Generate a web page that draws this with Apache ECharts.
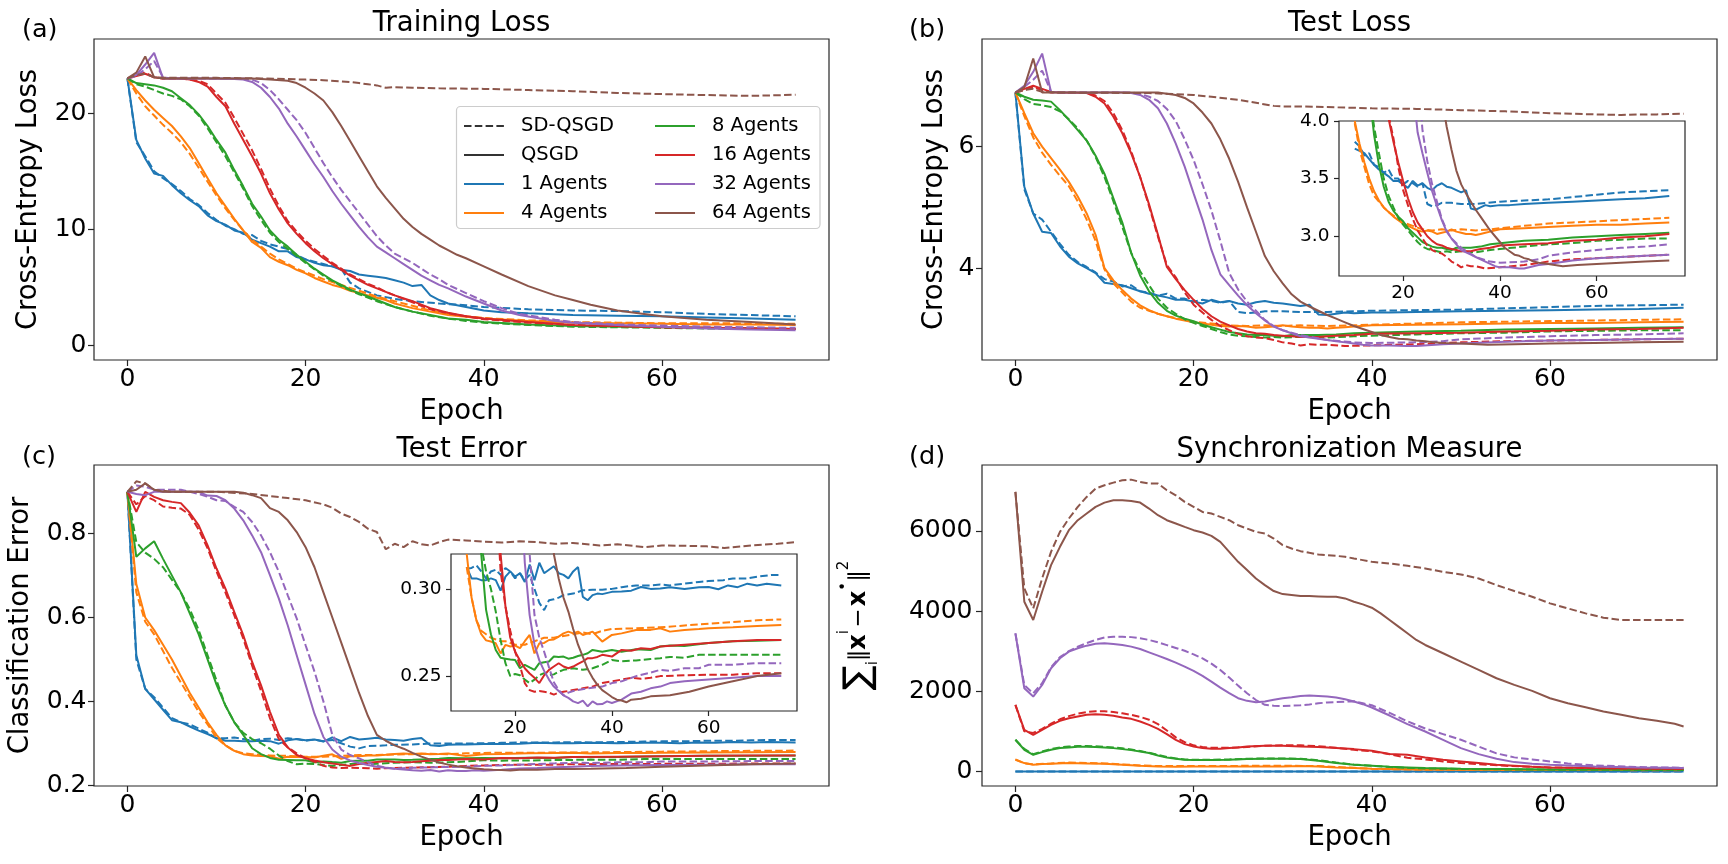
<!DOCTYPE html>
<html><head><meta charset="utf-8">
<script src="https://cdn.jsdelivr.net/npm/echarts@6/dist/echarts.min.js"></script>
<style>html,body{margin:0;padding:0;background:#fff}#c{width:1728px;height:864px}</style>
</head><body><div id="c"></div>
<script>
const FONT = 'DejaVu Sans';
const AGENTS = ['1 Agents','4 Agents','8 Agents','16 Agents','32 Agents','64 Agents'];
const COLORS = ['#1f77b4','#ff7f0e','#2ca02c','#d62728','#9467bd','#8c564b'];
const METHODS = ['SD-QSGD','QSGD'];
const X_TICKS = [0,20,40,60];
const INSET_X_TICKS = [20,40,60];
const Y_TICKS_A = [0,10,20];
const Y_TICKS_B = [4,6];
const Y_TICKS_C = [0.2,0.4,0.6,0.8];
const Y_TICKS_D = [0,2000,4000,6000];
const Y_TICKS_INSET_B = [3.0,3.5,4.0];
const Y_TICKS_INSET_C = [0.25,0.30];

// ---- (a) Training loss: [epoch, value], order 1,4,8,16,32,64 agents
const trainLossSD = [
 [[0,23],[1,17.5],[2,16.3],[3,15.0],[4,14.4],[5,13.9],[6,13.3],[7,12.6],[8,12.1],[9,11.4],[10,10.8],[11,10.3],[12,10.0],[13,9.6],[14,9.5],[15,9.0],[16,8.7],[17,8.5],[18,8.3],[19,7.8],[20,7.4],[21,7.2],[22,7.0],[23,6.8],[24,6.6],[25,5.4],[26,4.9],[27,4.6],[28,4.3],[30,4.0],[32,3.8],[35,3.6],[38,3.45],[40,3.3],[45,3.1],[50,3.0],[55,2.95],[60,2.85],[65,2.7],[70,2.6],[75,2.5]],
 [[0,23],[1,21.7],[2,20.6],[3,19.8],[4,19.0],[5,18.3],[6,17.5],[7,16.5],[8,15.3],[9,14.1],[10,12.9],[11,11.8],[12,10.8],[13,9.9],[14,9.1],[15,8.5],[16,7.9],[17,7.4],[18,7.0],[19,6.6],[20,6.3],[22,5.7],[24,5.2],[26,4.7],[28,4.2],[30,3.8],[32,3.4],[34,3.0],[36,2.7],[38,2.5],[40,2.35],[45,2.15],[50,2.0],[55,1.95],[60,1.9],[65,1.9],[70,1.88],[75,1.85]],
 [[0,23],[1,22.5],[2,22.3],[3,22.0],[4,21.7],[5,21.5],[6,21.2],[7,20.6],[8,19.8],[9,18.7],[10,17.5],[11,16.3],[12,14.9],[13,13.5],[14,12.0],[15,10.8],[16,9.7],[17,8.9],[18,8.3],[19,7.7],[20,7.1],[22,6.0],[24,5.1],[26,4.4],[28,3.8],[30,3.3],[32,2.9],[34,2.55],[36,2.3],[38,2.1],[40,1.95],[45,1.75],[50,1.6],[55,1.55],[60,1.5],[65,1.45],[70,1.42],[75,1.4]],
 [[0,23],[1,23.3],[2,23.5],[3,23.1],[4,23.0],[6,23.0],[7,22.9],[8,22.8],[9,22.5],[10,21.7],[11,20.9],[12,19.6],[13,18.2],[14,16.8],[15,15.2],[16,13.5],[17,12.0],[18,10.7],[19,9.8],[20,9.0],[21,8.3],[22,7.7],[23,7.1],[24,6.6],[25,6.1],[26,5.7],[27,5.3],[28,5.0],[29,4.6],[30,4.3],[32,3.7],[34,3.1],[36,2.75],[38,2.5],[40,2.25],[45,1.95],[50,1.75],[55,1.65],[60,1.55],[65,1.5],[70,1.45],[75,1.4]],
 [[0,23],[1,23.2],[2,23.8],[3,24.5],[4,23.1],[5,23.0],[8,23.0],[13,23.0],[14,22.9],[15,22.6],[16,22.0],[17,21.2],[18,20.3],[19,19.4],[20,18.3],[21,17.0],[22,15.7],[23,14.5],[24,13.4],[25,12.4],[26,11.4],[27,10.4],[28,9.4],[29,8.6],[30,7.9],[31,7.5],[32,7.1],[33,6.6],[34,6.1],[35,5.7],[36,5.2],[38,4.5],[40,3.8],[42,3.2],[44,2.7],[46,2.45],[48,2.2],[50,2.0],[55,1.8],[60,1.7],[65,1.6],[70,1.55],[75,1.5]],
 [[0,23],[1,23.3],[2,23.4],[3,23.1],[5,23.05],[10,23.05],[15,23.0],[18,22.95],[20,22.9],[22,22.85],[24,22.75],[25,22.7],[26,22.6],[27,22.5],[28,22.4],[29,22.2],[30,22.25],[32,22.2],[35,22.15],[40,22.1],[45,22.0],[50,21.9],[55,21.75],[60,21.65],[63,21.6],[66,21.55],[70,21.5],[73,21.55],[75,21.6]]
];
const trainLossQ = [
 [[0,23],[1,17.7],[2,16.1],[3,14.8],[4,14.6],[5,13.8],[6,13.1],[7,12.5],[8,12.0],[9,11.2],[10,10.7],[11,10.4],[12,9.9],[13,9.7],[14,9.1],[15,8.8],[16,8.5],[17,8.1],[18,8.1],[19,7.6],[20,7.4],[21,7.1],[22,6.9],[23,6.8],[24,6.5],[25,6.4],[26,6.1],[27,6.0],[28,5.9],[29,5.8],[30,5.6],[31,5.4],[32,5.1],[33,5.2],[34,4.3],[35,3.9],[36,3.6],[38,3.3],[40,3.0],[42,2.85],[45,2.75],[50,2.6],[55,2.55],[60,2.5],[65,2.4],[70,2.3],[75,2.2]],
 [[0,23],[1,22.0],[2,21.1],[3,20.3],[4,19.6],[5,18.9],[6,18.0],[7,17.0],[8,15.7],[9,14.4],[10,13.1],[11,12.0],[12,10.9],[13,9.9],[14,8.9],[15,8.4],[16,7.6],[17,7.2],[18,6.9],[19,6.5],[20,6.2],[21,5.8],[22,5.5],[23,5.2],[24,5.0],[25,4.7],[26,4.5],[27,4.3],[28,4.1],[29,3.9],[30,3.6],[32,3.2],[34,2.9],[36,2.6],[38,2.45],[40,2.3],[45,2.1],[50,1.95],[55,1.9],[60,1.85],[65,1.8],[70,1.78],[75,1.75]],
 [[0,23],[1,22.6],[2,22.5],[3,22.4],[4,22.2],[5,21.9],[6,21.3],[7,20.7],[8,19.9],[9,18.9],[10,17.7],[11,16.6],[12,15.1],[13,13.7],[14,12.2],[15,11.1],[16,9.9],[17,9.1],[18,8.5],[19,7.8],[20,7.2],[21,6.6],[22,6.1],[23,5.6],[24,5.2],[25,4.8],[26,4.5],[27,4.2],[28,3.9],[30,3.3],[32,2.9],[34,2.6],[36,2.3],[38,2.2],[40,2.0],[45,1.8],[50,1.65],[55,1.6],[60,1.55],[65,1.5],[70,1.45],[75,1.4]],
 [[0,23],[1,23.2],[2,23.4],[3,23.1],[4,23.0],[5,23.0],[6,23.0],[7,22.9],[8,22.7],[9,22.3],[10,21.4],[11,20.6],[12,19.1],[13,17.7],[14,16.3],[15,14.8],[16,13.1],[17,11.7],[18,10.5],[19,9.6],[20,8.8],[21,8.1],[22,7.5],[23,7.0],[24,6.5],[25,6.0],[26,5.6],[27,5.2],[28,4.9],[29,4.6],[30,4.3],[32,3.8],[34,3.2],[36,2.8],[38,2.5],[40,2.3],[45,2.0],[50,1.75],[55,1.65],[60,1.55],[65,1.5],[70,1.45],[75,1.4]],
 [[0,23],[1,23.3],[2,24.2],[3,25.2],[4,23.0],[5,23.0],[8,23.0],[12,22.95],[13,22.9],[14,22.7],[15,22.2],[16,21.4],[17,20.4],[18,19.1],[19,18.0],[20,16.8],[21,15.6],[22,14.5],[23,13.3],[24,12.2],[25,11.2],[26,10.2],[27,9.3],[28,8.5],[29,8.0],[30,7.5],[31,7.0],[32,6.5],[33,6.0],[34,5.6],[35,5.2],[36,4.9],[38,4.2],[40,3.6],[42,3.0],[44,2.6],[46,2.35],[48,2.1],[50,1.95],[55,1.75],[60,1.6],[65,1.45],[70,1.35],[75,1.3]],
 [[0,23],[1,23.5],[2,24.9],[3,23.1],[4,23.0],[10,23.0],[14,23.0],[16,22.9],[18,22.8],[19,22.6],[20,22.2],[21,21.7],[22,21.1],[23,20.1],[24,18.9],[25,17.6],[26,16.3],[27,15.0],[28,13.7],[29,12.7],[30,11.8],[31,10.9],[32,10.2],[33,9.6],[34,9.1],[35,8.6],[36,8.2],[37,7.8],[38,7.5],[40,6.8],[42,6.1],[45,5.1],[48,4.3],[50,3.9],[52,3.5],[55,3.0],[58,2.7],[60,2.5],[65,2.2],[70,2.0],[75,1.8]]
];

// ---- (b) Test loss
const testLossSD = [
 [[0,6.89],[1,5.3],[2,4.9],[3,4.8],[4,4.6],[5,4.4],[6,4.22],[7,4.1],[8,4.02],[9,3.93],[10,3.82],[11,3.78],[12,3.7],[13,3.72],[14,3.62],[15,3.6],[16,3.55],[17,3.58],[18,3.5],[19,3.5],[20,3.45],[21,3.48],[22,3.46],[23,3.43],[24,3.46],[25,3.28],[26,3.26],[27,3.27],[28,3.29],[30,3.29],[32,3.28],[35,3.28],[40,3.3],[45,3.31],[50,3.32],[55,3.34],[60,3.36],[65,3.38],[70,3.39],[75,3.4]],
 [[0,6.89],[1,6.5],[2,6.15],[3,5.9],[4,5.7],[5,5.52],[6,5.35],[7,5.1],[8,4.8],[9,4.45],[10,3.98],[11,3.75],[12,3.6],[13,3.45],[14,3.35],[15,3.3],[16,3.25],[17,3.21],[18,3.18],[19,3.15],[20,3.12],[22,3.09],[24,3.06],[26,3.05],[28,3.06],[30,3.05],[32,3.06],[35,3.05],[38,3.06],[40,3.07],[45,3.09],[50,3.11],[55,3.12],[60,3.13],[65,3.14],[70,3.15],[75,3.16]],
 [[0,6.89],[1,6.78],[2,6.7],[3,6.68],[4,6.65],[5,6.58],[6,6.45],[7,6.3],[8,6.1],[9,5.83],[10,5.5],[11,5.1],[12,4.68],[13,4.25],[14,3.95],[15,3.72],[16,3.5],[17,3.35],[18,3.25],[19,3.16],[20,3.1],[21,3.05],[22,3.0],[23,2.95],[24,2.91],[25,2.89],[26,2.88],[27,2.87],[28,2.86],[29,2.87],[30,2.86],[32,2.87],[35,2.86],[38,2.88],[40,2.89],[45,2.91],[50,2.93],[55,2.94],[60,2.96],[65,2.97],[70,2.98],[75,2.98]],
 [[0,6.89],[1,6.93],[2,6.98],[3,6.93],[4,6.89],[8,6.88],[9,6.84],[10,6.75],[11,6.55],[12,6.27],[13,5.92],[14,5.5],[15,5.02],[16,4.52],[17,4.05],[18,3.85],[19,3.6],[20,3.4],[21,3.27],[22,3.15],[23,3.05],[24,2.98],[25,2.92],[26,2.88],[27,2.86],[28,2.85],[29,2.82],[30,2.78],[31,2.76],[32,2.73],[33,2.75],[34,2.74],[35,2.74],[37,2.72],[40,2.73],[45,2.75],[50,2.78],[55,2.8],[60,2.81],[65,2.82],[70,2.83],[75,2.84]],
 [[0,6.89],[1,6.98],[2,7.1],[3,7.25],[4,6.9],[5,6.89],[13,6.89],[14,6.87],[15,6.82],[16,6.75],[17,6.62],[18,6.42],[19,6.12],[20,5.78],[21,5.38],[22,4.95],[23,4.45],[24,3.92],[25,3.65],[26,3.45],[27,3.3],[28,3.15],[29,3.05],[30,2.98],[32,2.9],[35,2.82],[38,2.78],[40,2.77],[45,2.78],[48,2.8],[50,2.83],[55,2.86],[60,2.88],[65,2.9],[70,2.91],[75,2.93]],
 [[0,6.89],[1,6.93],[2,6.95],[3,6.9],[5,6.89],[15,6.88],[20,6.85],[22,6.82],[25,6.77],[27,6.72],[29,6.67],[30,6.66],[32,6.66],[35,6.65],[40,6.63],[45,6.62],[50,6.6],[55,6.58],[60,6.55],[65,6.53],[68,6.52],[70,6.53],[72,6.53],[75,6.54]]
];
const testLossQ = [
 [[0,6.89],[1,5.34],[2,4.9],[3,4.6],[4,4.58],[5,4.36],[6,4.19],[7,4.08],[8,4.0],[9,3.92],[10,3.76],[11,3.74],[12,3.72],[13,3.67],[14,3.62],[15,3.58],[16,3.55],[17,3.52],[18,3.48],[19,3.48],[20,3.45],[21,3.42],[22,3.48],[23,3.44],[24,3.46],[25,3.42],[26,3.4],[27,3.44],[28,3.46],[29,3.43],[30,3.42],[31,3.4],[32,3.38],[33,3.4],[34,3.24],[35,3.23],[36,3.25],[37,3.27],[38,3.26],[40,3.27],[42,3.27],[45,3.28],[50,3.29],[55,3.3],[60,3.31],[65,3.32],[70,3.33],[75,3.35]],
 [[0,6.89],[1,6.55],[2,6.22],[3,6.0],[4,5.81],[5,5.62],[6,5.42],[7,5.18],[8,4.9],[9,4.55],[10,4.0],[11,3.8],[12,3.64],[13,3.5],[14,3.39],[15,3.31],[16,3.25],[17,3.21],[18,3.17],[19,3.14],[20,3.11],[21,3.09],[22,3.07],[23,3.05],[24,3.04],[25,3.05],[26,3.04],[27,3.02],[28,3.03],[29,3.04],[30,3.06],[31,3.04],[32,3.03],[33,3.02],[34,3.02],[35,3.01],[36,3.02],[37,3.03],[38,3.04],[40,3.06],[45,3.07],[50,3.08],[55,3.09],[60,3.1],[65,3.1],[70,3.11],[75,3.12]],
 [[0,6.89],[1,6.82],[2,6.77],[3,6.76],[4,6.74],[5,6.6],[6,6.44],[7,6.27],[8,6.1],[9,5.85],[10,5.55],[11,5.15],[12,4.75],[13,4.25],[14,3.88],[15,3.62],[16,3.43],[17,3.3],[18,3.22],[19,3.17],[20,3.13],[21,3.07],[22,3.03],[23,2.99],[24,2.95],[25,2.93],[26,2.91],[27,2.9],[28,2.9],[29,2.89],[30,2.88],[31,2.9],[32,2.9],[34,2.9],[36,2.91],[38,2.93],[40,2.94],[45,2.96],[50,2.97],[55,2.99],[60,3.0],[65,3.01],[70,3.02],[75,3.03]],
 [[0,6.89],[1,6.95],[2,7.0],[3,6.95],[4,6.9],[5,6.89],[8,6.88],[9,6.82],[10,6.71],[11,6.49],[12,6.22],[13,5.89],[14,5.5],[15,5.05],[16,4.55],[17,4.02],[18,3.82],[19,3.64],[20,3.48],[21,3.33],[22,3.21],[23,3.12],[24,3.06],[25,3.0],[26,2.96],[27,2.93],[28,2.92],[29,2.9],[30,2.89],[31,2.88],[32,2.87],[33,2.87],[34,2.87],[35,2.88],[36,2.89],[38,2.9],[40,2.92],[45,2.93],[50,2.94],[55,2.96],[60,2.97],[65,2.99],[70,3.0],[75,3.02]],
 [[0,6.89],[1,7.0],[2,7.23],[3,7.53],[4,6.9],[5,6.89],[12,6.89],[13,6.88],[14,6.85],[15,6.77],[16,6.63],[17,6.38],[18,6.05],[19,5.67],[20,5.23],[21,4.8],[22,4.3],[23,3.9],[24,3.72],[25,3.55],[26,3.39],[27,3.26],[28,3.14],[29,3.04],[30,2.98],[31,2.93],[32,2.88],[33,2.86],[34,2.84],[35,2.82],[36,2.8],[37,2.78],[38,2.76],[39,2.74],[40,2.73],[42,2.73],[44,2.72],[45,2.72],[48,2.75],[50,2.76],[55,2.79],[60,2.81],[65,2.82],[70,2.83],[75,2.84]],
 [[0,6.89],[1,6.98],[2,7.45],[3,6.89],[5,6.89],[16,6.89],[17,6.87],[18,6.85],[19,6.8],[20,6.71],[21,6.56],[22,6.38],[23,6.12],[24,5.8],[25,5.42],[26,5.0],[27,4.6],[28,4.2],[29,3.95],[30,3.75],[31,3.57],[32,3.45],[33,3.37],[34,3.3],[35,3.23],[36,3.17],[37,3.11],[38,3.05],[39,3.0],[40,2.95],[41,2.9],[42,2.87],[43,2.84],[44,2.83],[45,2.81],[46,2.8],[47,2.78],[48,2.77],[50,2.76],[53,2.74],[56,2.75],[60,2.76],[65,2.77],[70,2.78],[75,2.79]]
];

// ---- (c) Test error
const testErrSD = [
 [[0,0.9],[1,0.5],[2,0.43],[3,0.41],[4,0.385],[5,0.36],[6,0.35],[7,0.345],[8,0.335],[9,0.325],[10,0.3116],[11,0.312],[12,0.3135],[13,0.31],[14,0.306],[15,0.31],[16,0.311],[17,0.308],[18,0.312],[19,0.31],[20,0.306],[21,0.309],[22,0.305],[23,0.308],[24,0.3],[25,0.292],[26,0.2878],[27,0.2935],[28,0.294],[29,0.295],[30,0.2964],[32,0.2973],[34,0.2992],[36,0.2995],[38,0.2995],[40,0.3],[42,0.301],[45,0.302],[48,0.302],[50,0.3025],[52,0.302],[55,0.303],[58,0.304],[60,0.3045],[63,0.305],[65,0.306],[68,0.306],[70,0.307],[73,0.308],[75,0.308]],
 [[0,0.9],[1,0.66],[2,0.59],[3,0.56],[4,0.52],[5,0.48],[6,0.445],[7,0.41],[8,0.375],[9,0.345],[10,0.3125],[11,0.295],[12,0.282],[13,0.276],[14,0.274],[15,0.272],[16,0.271],[17,0.27],[18,0.27],[19,0.269],[20,0.268],[22,0.268],[24,0.27],[26,0.272],[28,0.272],[30,0.273],[32,0.274],[34,0.275],[36,0.274],[38,0.276],[40,0.277],[45,0.2774],[50,0.278],[55,0.279],[60,0.28],[65,0.281],[70,0.282],[75,0.2825]],
 [[0,0.9],[1,0.78],[2,0.755],[3,0.74],[4,0.72],[5,0.69],[6,0.66],[7,0.62],[8,0.57],[9,0.51],[10,0.45],[11,0.39],[12,0.35],[13,0.325],[14,0.31],[15,0.3],[16,0.287],[17,0.2707],[18,0.2574],[19,0.25],[20,0.2512],[21,0.2505],[22,0.248],[23,0.246],[24,0.248],[25,0.2505],[26,0.2517],[27,0.2505],[28,0.251],[29,0.2525],[30,0.2536],[32,0.2545],[34,0.2536],[36,0.2545],[38,0.2565],[40,0.2593],[42,0.2585],[45,0.259],[48,0.2598],[50,0.2603],[52,0.261],[55,0.2605],[58,0.2622],[60,0.2622],[65,0.2622],[70,0.2622],[75,0.2622]],
 [[0,0.9],[1,0.87],[2,0.89],[3,0.88],[4,0.865],[5,0.862],[6,0.86],[7,0.845],[8,0.81],[9,0.765],[10,0.71],[11,0.66],[12,0.605],[13,0.55],[14,0.485],[15,0.425],[16,0.36],[17,0.31],[18,0.29],[19,0.276],[20,0.264],[21,0.256],[22,0.246],[23,0.242],[24,0.241],[25,0.2415],[26,0.241],[27,0.2405],[28,0.2394],[29,0.2405],[30,0.241],[32,0.242],[34,0.243],[36,0.244],[38,0.246],[40,0.247],[42,0.248],[44,0.249],[46,0.2485],[48,0.249],[50,0.25],[55,0.2505],[60,0.2508],[65,0.2508],[70,0.2517],[75,0.2517]],
 [[0,0.9],[1,0.915],[2,0.912],[3,0.905],[6,0.905],[7,0.9],[8,0.895],[9,0.888],[10,0.88],[11,0.878],[12,0.864],[13,0.852],[14,0.828],[15,0.796],[16,0.756],[17,0.709],[18,0.653],[19,0.598],[20,0.534],[21,0.471],[22,0.4],[23,0.32],[24,0.285],[25,0.272],[26,0.264],[27,0.255],[28,0.2465],[29,0.242],[30,0.239],[31,0.2405],[32,0.2415],[33,0.242],[35,0.243],[38,0.244],[40,0.246],[42,0.247],[45,0.25],[48,0.252],[50,0.2536],[52,0.253],[55,0.2545],[58,0.2545],[60,0.2565],[65,0.2565],[70,0.2574],[75,0.2574]],
 [[0,0.9],[1,0.925],[2,0.92],[3,0.905],[5,0.9],[10,0.9],[14,0.895],[16,0.89],[18,0.885],[20,0.88],[22,0.87],[23,0.862],[24,0.848],[25,0.84],[26,0.828],[27,0.812],[28,0.804],[29,0.763],[30,0.776],[31,0.768],[32,0.782],[33,0.775],[34,0.772],[35,0.78],[36,0.786],[38,0.784],[40,0.781],[42,0.779],[44,0.782],[46,0.78],[48,0.776],[50,0.778],[52,0.774],[53,0.772],[55,0.775],[58,0.768],[60,0.772],[63,0.771],[65,0.77],[67,0.766],[70,0.772],[73,0.776],[75,0.78]]
];
const testErrQ = [
 [[0,0.9],[1,0.51],[2,0.43],[3,0.405],[4,0.38],[5,0.355],[6,0.35],[7,0.34],[8,0.33],[9,0.322],[10,0.3125],[11,0.306],[12,0.306],[13,0.305],[14,0.305],[15,0.306],[16,0.305],[17,0.299],[18,0.307],[19,0.31],[20,0.307],[21,0.309],[22,0.304],[23,0.314],[24,0.305],[25,0.315],[26,0.309],[27,0.311],[28,0.313],[29,0.309],[30,0.308],[31,0.306],[32,0.31],[33,0.3125],[34,0.2954],[35,0.2935],[36,0.2964],[37,0.2973],[38,0.297],[40,0.2983],[42,0.2985],[44,0.299],[46,0.3011],[48,0.3],[50,0.3002],[52,0.301],[55,0.3],[58,0.301],[60,0.3011],[62,0.2998],[64,0.302],[66,0.301],[68,0.303],[70,0.302],[72,0.303],[75,0.302]],
 [[0,0.9],[1,0.68],[2,0.6],[3,0.57],[4,0.535],[5,0.5],[6,0.46],[7,0.42],[8,0.385],[9,0.35],[10,0.32],[11,0.295],[12,0.282],[13,0.274],[14,0.2705],[15,0.2698],[16,0.2688],[17,0.263],[18,0.2679],[19,0.267],[20,0.2675],[21,0.266],[22,0.27],[23,0.2736],[24,0.263],[25,0.2688],[26,0.269],[27,0.2707],[28,0.271],[29,0.2726],[30,0.2745],[31,0.2755],[32,0.2745],[33,0.2755],[34,0.2736],[35,0.2745],[36,0.2755],[38,0.2698],[40,0.2736],[42,0.2745],[45,0.2764],[48,0.2765],[50,0.2774],[52,0.2755],[55,0.2765],[58,0.277],[60,0.2774],[65,0.278],[70,0.2787],[75,0.2793]],
 [[0,0.9],[1,0.745],[2,0.765],[3,0.782],[4,0.74],[5,0.7],[6,0.66],[7,0.61],[8,0.56],[9,0.5],[10,0.44],[11,0.39],[12,0.35],[13,0.32],[14,0.288],[15,0.274],[16,0.265],[17,0.2605],[18,0.26],[19,0.2595],[20,0.2593],[21,0.2545],[22,0.2565],[23,0.255],[24,0.2536],[25,0.2574],[26,0.258],[27,0.2584],[28,0.2612],[29,0.261],[30,0.2612],[31,0.26],[32,0.2605],[33,0.2615],[34,0.2622],[35,0.2631],[36,0.265],[38,0.264],[40,0.265],[42,0.264],[45,0.2654],[48,0.265],[50,0.267],[52,0.2675],[55,0.2673],[60,0.269],[65,0.27],[70,0.2703],[75,0.2707]],
 [[0,0.9],[1,0.852],[2,0.9],[3,0.888],[4,0.88],[5,0.876],[6,0.873],[7,0.85],[8,0.82],[9,0.772],[10,0.717],[11,0.669],[12,0.613],[13,0.558],[14,0.494],[15,0.438],[16,0.375],[17,0.32],[18,0.29],[19,0.272],[20,0.264],[21,0.259],[22,0.2545],[23,0.2515],[24,0.249],[25,0.246],[26,0.2505],[27,0.2536],[28,0.2555],[29,0.2574],[30,0.2555],[31,0.2545],[32,0.2555],[33,0.257],[34,0.2584],[35,0.2603],[36,0.2603],[37,0.261],[38,0.2622],[40,0.2612],[42,0.265],[44,0.2645],[46,0.266],[48,0.2655],[50,0.267],[55,0.268],[60,0.269],[65,0.27],[70,0.2707],[75,0.2707]],
 [[0,0.9],[1,0.895],[2,0.892],[3,0.9],[4,0.9],[8,0.9],[9,0.891],[10,0.89],[11,0.88],[12,0.86],[13,0.832],[14,0.796],[15,0.756],[16,0.701],[17,0.645],[18,0.581],[19,0.51],[20,0.44],[21,0.37],[22,0.315],[23,0.285],[24,0.268],[25,0.259],[26,0.253],[27,0.248],[28,0.244],[29,0.2415],[30,0.239],[31,0.2375],[32,0.2355],[33,0.2345],[34,0.236],[35,0.2327],[36,0.2355],[37,0.2338],[38,0.234],[39,0.2355],[40,0.2346],[42,0.2365],[44,0.24],[46,0.241],[48,0.243],[50,0.244],[52,0.246],[55,0.247],[60,0.248],[65,0.249],[70,0.25],[75,0.25]],
 [[0,0.9],[1,0.905],[2,0.92],[3,0.905],[4,0.9],[12,0.9],[13,0.898],[14,0.892],[15,0.885],[16,0.861],[17,0.852],[18,0.832],[19,0.804],[20,0.768],[21,0.72],[22,0.66],[23,0.6],[24,0.54],[25,0.48],[26,0.42],[27,0.365],[28,0.32],[29,0.306],[30,0.295],[31,0.287],[32,0.277],[33,0.268],[34,0.261],[35,0.254],[36,0.249],[37,0.245],[38,0.242],[39,0.24],[40,0.238],[41,0.2365],[42,0.236],[43,0.235],[44,0.2365],[46,0.237],[48,0.2384],[50,0.2388],[52,0.239],[56,0.241],[60,0.244],[65,0.247],[70,0.25],[75,0.2517]]
];

// ---- (d) Synchronization measure
const syncSD = [
 [[0,0],[20,0],[40,0],[60,0],[75,0]],
 [[0,300],[1,200],[2,175],[4,200],[6,220],[8,210],[10,200],[12,175],[14,150],[16,135],[20,135],[25,138],[30,140],[34,135],[36,110],[38,90],[40,65],[45,45],[50,40],[60,35],[75,30]],
 [[0,789],[1,560],[2,430],[3,500],[4,560],[5,600],[6,620],[7,635],[8,635],[9,625],[10,615],[11,598],[12,575],[13,545],[14,510],[15,465],[16,410],[17,360],[18,325],[19,300],[20,290],[22,290],[24,300],[26,315],[28,325],[30,325],[32,315],[34,280],[36,220],[38,170],[40,140],[42,110],[44,90],[46,75],[50,60],[55,50],[60,45],[65,40],[70,38],[75,35]],
 [[0,1660],[1,1000],[2,960],[3,1060],[4,1190],[5,1300],[6,1380],[7,1440],[8,1480],[9,1500],[10,1500],[11,1480],[12,1450],[13,1410],[14,1360],[15,1290],[16,1180],[17,1020],[18,850],[19,730],[20,650],[21,610],[22,590],[24,590],[26,610],[28,640],[30,650],[32,650],[34,630],[36,590],[38,540],[40,500],[42,430],[44,340],[46,300],[48,250],[50,210],[52,180],[55,140],[60,100],[65,80],[70,70],[75,60]],
 [[0,3445],[1,2150],[2,1950],[3,2200],[4,2600],[5,2850],[6,3000],[7,3110],[8,3200],[9,3280],[10,3340],[11,3360],[12,3360],[13,3350],[14,3320],[15,3280],[16,3220],[17,3150],[18,3080],[19,3010],[20,2920],[21,2820],[22,2690],[23,2530],[24,2340],[25,2140],[26,1950],[27,1780],[28,1660],[29,1640],[30,1630],[31,1640],[32,1650],[33,1670],[34,1700],[35,1720],[36,1730],[37,1740],[38,1750],[39,1700],[40,1650],[42,1460],[44,1250],[46,1070],[48,930],[50,790],[52,620],[54,450],[56,350],[58,300],[60,250],[62,200],[65,150],[70,110],[75,90]],
 [[0,6972],[1,4565],[2,4067],[3,4814],[4,5478],[5,5976],[6,6308],[7,6599],[8,6848],[9,7055],[10,7138],[11,7204],[12,7263],[13,7279],[14,7221],[15,7180],[16,7180],[17,7014],[18,6889],[19,6723],[20,6599],[21,6474],[22,6433],[23,6350],[24,6267],[25,6142],[26,6059],[27,5976],[28,5935],[29,5810],[30,5644],[31,5561],[32,5495],[33,5453],[34,5412],[35,5395],[36,5378],[37,5354],[38,5312],[39,5271],[40,5229],[42,5188],[44,5129],[46,5063],[48,4980],[50,4914],[52,4814],[54,4648],[56,4499],[58,4358],[60,4192],[62,4067],[64,3943],[66,3835],[68,3777],[70,3777],[72,3777],[75,3777]]
];
const syncQ = [
 [[0,0],[20,0],[40,0],[60,0],[75,0]],
 [[0,290],[1,208],[2,166],[3,183],[4,191],[6,208],[8,199],[10,191],[12,166],[14,141],[16,125],[18,116],[20,120],[25,125],[30,125],[32,133],[34,125],[36,100],[38,83],[40,66],[45,50],[50,41],[60,35],[75,33]],
 [[0,789],[1,540],[2,415],[3,481],[4,540],[5,581],[6,598],[7,614],[8,614],[9,606],[10,598],[11,581],[12,556],[13,531],[14,498],[15,457],[16,398],[17,349],[18,315],[19,290],[20,282],[22,282],[24,290],[26,307],[28,315],[30,315],[32,307],[34,266],[36,208],[38,166],[40,141],[42,116],[44,100],[46,83],[50,66],[55,58],[60,50],[65,45],[70,40],[75,40]],
 [[0,1660],[1,1038],[2,913],[3,1038],[4,1162],[5,1262],[6,1328],[7,1370],[8,1411],[9,1428],[10,1411],[11,1386],[12,1345],[13,1311],[14,1245],[15,1162],[16,1062],[17,930],[18,789],[19,681],[20,623],[21,581],[22,564],[23,564],[24,581],[25,598],[26,623],[28,639],[30,639],[32,623],[34,606],[36,581],[38,556],[40,515],[42,432],[44,415],[46,349],[48,290],[50,249],[52,208],[54,166],[56,141],[58,116],[60,100],[65,83],[70,75],[75,66]],
 [[0,3445],[1,2075],[2,1868],[3,2158],[4,2573],[5,2822],[6,2988],[7,3071],[8,3137],[9,3187],[10,3196],[11,3180],[12,3154],[13,3113],[14,3054],[15,2971],[16,2888],[17,2805],[18,2714],[19,2615],[20,2507],[21,2382],[22,2241],[23,2092],[24,1951],[25,1826],[26,1760],[27,1726],[28,1743],[29,1785],[30,1826],[31,1851],[32,1884],[33,1892],[34,1884],[35,1868],[36,1843],[37,1801],[38,1743],[39,1677],[40,1594],[42,1394],[44,1179],[46,996],[48,789],[50,581],[52,432],[54,315],[56,232],[58,191],[60,166],[65,125],[70,100],[75,83]],
 [[0,6972],[1,4233],[2,3777],[3,4482],[4,5146],[5,5603],[6,6018],[7,6267],[8,6433],[9,6599],[10,6706],[11,6765],[12,6765],[13,6748],[14,6706],[15,6557],[16,6391],[17,6267],[18,6184],[19,6100],[20,6018],[21,5960],[22,5877],[23,5727],[24,5478],[25,5229],[26,5022],[27,4814],[28,4648],[29,4499],[30,4424],[31,4399],[32,4374],[33,4374],[34,4366],[35,4358],[36,4358],[37,4316],[38,4233],[39,4167],[40,4084],[41,3942],[42,3777],[43,3611],[44,3445],[45,3279],[46,3154],[48,2947],[50,2739],[52,2532],[54,2324],[56,2158],[58,2009],[60,1826],[62,1702],[64,1602],[66,1494],[68,1411],[70,1328],[72,1262],[74,1187],[75,1120]]
];

// ---------------- layout ----------------
const GRIDS = [
  {left:94, top:39, width:735, height:321},
  {left:982, top:39, width:735, height:321},
  {left:94, top:465, width:735, height:321},
  {left:982, top:465, width:735, height:321},
  {left:1339, top:121, width:346, height:155},
  {left:451, top:554, width:346, height:157}
];
const grids = GRIDS.map((g, i) => Object.assign({
  show:true, borderColor:'#262626', borderWidth:1.2,
  backgroundColor: i >= 4 ? '#ffffff' : 'transparent',
  containLabel:false, outerBoundsMode:'none'
}, g));

const TICK_FS = 25, INSET_FS = 18.5, NAME_FS = 27.5;
function axis(gi, min, max, ticks, fs, margin, extra, fmt) {
  return Object.assign({
    type:'value', gridIndex:gi, min, max, scale:true,
    axisLine:{show:false, onZero:false},
    axisTick:{show:true, inside:false, length: fs > 20 ? 6 : 5, customValues:ticks, lineStyle:{color:'#262626', width:1.2}},
    axisLabel:{show:true, customValues:ticks, fontSize:fs, fontFamily:FONT, color:'#000', margin, formatter: fmt || (v => String(v))},
    splitLine:{show:false}
  }, extra || {});
}
const NAME_STYLE = {fontSize:NAME_FS, fontFamily:FONT, color:'#000'};
const xName = {name:'Epoch', nameLocation:'middle', nameGap:38, nameTextStyle:NAME_STYLE};
function yName(text, gap) { return {name:text, nameLocation:'middle', nameRotate:90, nameGap:gap, nameTextStyle:NAME_STYLE}; }

const xAxes = [
  axis(0, -3.75, 78.75, X_TICKS, TICK_FS, 6.5, xName),
  axis(1, -3.75, 78.75, X_TICKS, TICK_FS, 6.5, xName),
  axis(2, -3.75, 78.75, X_TICKS, TICK_FS, 6.5, xName),
  axis(3, -3.75, 78.75, X_TICKS, TICK_FS, 6.5, xName),
  axis(4, 6.75, 78.25, INSET_X_TICKS, INSET_FS, 8),
  axis(5, 6.75, 78.25, INSET_X_TICKS, INSET_FS, 8)
];
const syncName = {
  name:'{s|∑}{sub|i}{n|∥}{b|x}{sup|i}{n|\u200a−\u200a}{b|x}{sup|•}{n|∥}{sup|2}',
  nameLocation:'middle', nameRotate:90, nameGap:101,
  nameTextStyle:{fontFamily:FONT, color:'#000', fontSize:23, rich:{
    s:{fontSize:37, fontFamily:FONT, color:'#000', lineHeight:44},
    n:{fontSize:23, fontFamily:FONT, color:'#000'},
    b:{fontSize:24, fontFamily:FONT, color:'#000', fontWeight:'bold'},
    sup:{fontSize:15, fontFamily:FONT, color:'#000', verticalAlign:'top'},
    sub:{fontSize:15, fontFamily:FONT, color:'#000', verticalAlign:'bottom'}
  }}
};
const yAxes = [
  axis(0, -1.27, 26.4, Y_TICKS_A, TICK_FS, 7.5, yName('Cross-Entropy Loss', 51)),
  axis(1, 2.49, 7.77, Y_TICKS_B, TICK_FS, 7.5, yName('Cross-Entropy Loss', 33.5)),
  axis(2, 0.198, 0.964, Y_TICKS_C, TICK_FS, 7.5, yName('Classification Error', 59), v => String(+v.toFixed(1))),
  axis(3, -364, 7644, Y_TICKS_D, TICK_FS, 9.5, syncName),
  axis(4, 2.655, 4.0, Y_TICKS_INSET_B, INSET_FS, 9.5, null, v => v.toFixed(1)),
  axis(5, 0.23, 0.32, Y_TICKS_INSET_C, INSET_FS, 9.5, null, v => v.toFixed(2))
];

const PANELS = [
  {sd:trainLossSD, q:trainLossQ, grid:0},
  {sd:testLossSD, q:testLossQ, grid:1, inset:4},
  {sd:testErrSD, q:testErrQ, grid:2, inset:5},
  {sd:syncSD, q:syncQ, grid:3}
];
const DASH = [7.5, 3.3];
const series = [];
PANELS.forEach(p => {
  const targets = [p.grid].concat(p.inset != null ? [p.inset] : []);
  targets.forEach((gi, k) => {
    AGENTS.forEach((name, i) => {
      [[p.q[i], 'solid'], [p.sd[i], DASH]].forEach(([arr, type]) => {
        const data = k === 0 ? arr : arr.filter(d => d[0] >= 10);
        series.push({
          type:'line', name, xAxisIndex:gi, yAxisIndex:gi, data,
          showSymbol:false, symbol:'none', animation:false, silent:true, clip:true,
          lineStyle:{color:COLORS[i], width:2, type},
          itemStyle:{color:COLORS[i]}, emphasis:{disabled:true}
        });
      });
    });
  });
});
// legend-only entries for the two methods
METHODS.forEach((m, j) => series.push({type:'line', name:m, xAxisIndex:0, yAxisIndex:0, data:[], symbol:'none', showSymbol:false,
  lineStyle:{color:'#333', width:2, type: j === 0 ? DASH : 'solid'}, itemStyle:{color:'#333'}}));

function legend(left, names) {
  return {
    show:true, orient:'vertical', left, top:116, padding:0, itemGap:9,
    itemWidth:40, itemHeight:14, selectedMode:false, z:6,
    itemStyle:{opacity:0}, lineStyle:{width:2},
    formatter: n => '{g| }' + n,
    textStyle:{fontSize:19.5, fontFamily:FONT, color:'#000', lineHeight:20,
      rich:{g:{width:12, fontSize:19.5, fontFamily:FONT}}},
    data: names
  };
}
const legendCol1 = [METHODS[0], METHODS[1], AGENTS[0], AGENTS[1]];
const legendCol2 = [AGENTS[2], AGENTS[3], AGENTS[4], AGENTS[5]];

function txt(x, y, text, size, align) {
  return {type:'text', x, y, z:10, silent:true, style:{text, fill:'#000', font:`${size}px "${FONT}"`,
    align:align||'left', verticalAlign:'middle', textAlign:align||'left', textVerticalAlign:'middle'}};
}
const graphics = [
  {type:'rect', z:5, silent:true, shape:{x:456.5, y:106.5, width:363.5, height:122, r:4},
   style:{fill:'rgba(255,255,255,0.8)', stroke:'#cccccc', lineWidth:1.2}},
  txt(461.5, 23.8, 'Training Loss', 27.5, 'center'),
  txt(1349.5, 23.8, 'Test Loss', 27.5, 'center'),
  txt(461.5, 449.8, 'Test Error', 27.5, 'center'),
  txt(1349.5, 449.8, 'Synchronization Measure', 27.5, 'center'),
  txt(22, 30.5, '(a)', 25.5),
  txt(909, 30.5, '(b)', 25.5),
  txt(22, 457, '(c)', 25.5),
  txt(909, 457, '(d)', 25.5)
];

const chart = echarts.init(document.getElementById('c'), null, {renderer:'canvas'});
chart.setOption({
  backgroundColor:'#ffffff',
  animation:false,
  grid:grids, xAxis:xAxes, yAxis:yAxes,
  legend:[legend(463, legendCol1), legend(654, legendCol2)],
  graphic:graphics,
  series
});
</script></body></html>
